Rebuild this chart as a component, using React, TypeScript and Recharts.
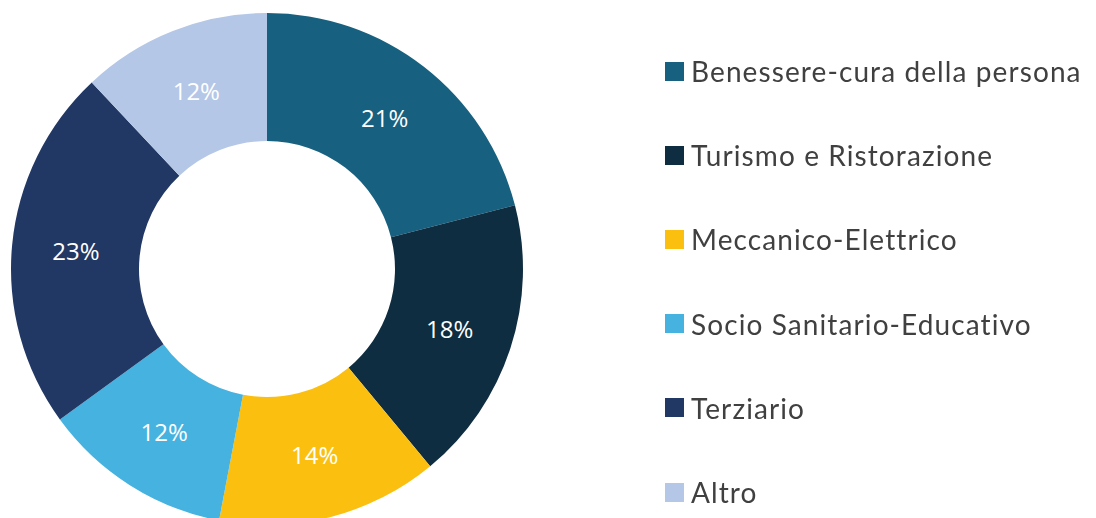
import { PieChart, Pie, Cell, Legend } from "recharts";

// ── Data ───────────────────────────────────────────────────────────

const SECTORS = [
  "Benessere-cura della persona",
  "Turismo e Ristorazione",
  "Meccanico-Elettrico",
  "Socio Sanitario-Educativo",
  "Terziario",
  "Altro",
];
const SHARES = [21, 18, 14, 12, 23, 12];
const COLORS = ["#17607f", "#0f2d40", "#fbbf10", "#45b2e0", "#213764", "#b4c7e7"];

const data = SECTORS.map((name, i) => ({ name, value: SHARES[i] }));

const RAD = Math.PI / 180;

// eslint-disable-next-line @typescript-eslint/no-explicit-any
function renderLabel(p: any) {
  const r = (p.innerRadius + p.outerRadius) / 2;
  const x = p.cx + r * Math.cos(-p.midAngle * RAD);
  const y = p.cy + r * Math.sin(-p.midAngle * RAD);
  return (
    <text x={x} y={y} fill="#fff" fontSize={24} fontFamily="'Open Sans', sans-serif" textAnchor="middle" dominantBaseline="central">
      {`${p.value}%`}
    </text>
  );
}

function LegendList() {
  return (
    <div>
      {data.map((d, i) => (
        <div key={d.name} style={{ display: "flex", alignItems: "center", height: 84.2 }}>
          <span style={{ width: 19, height: 19, background: COLORS[i], display: "inline-block", marginRight: 7 }} />
          <span style={{ fontSize: 28, color: "#404040", fontFamily: "Lato, sans-serif", letterSpacing: 1.1 }}>{d.name}</span>
        </div>
      ))}
    </div>
  );
}

export default function App() {
  return (
    <div style={{ position: "fixed", left: 0, top: 0, width: 1096, height: 518, background: "#fff" }}>
      <PieChart width={1096} height={518}>
        <Pie
          data={data}
          dataKey="value"
          cx={262}
          cy={264}
          innerRadius={128}
          outerRadius={256}
          startAngle={90}
          endAngle={-270}
          stroke="none"
          label={renderLabel}
          labelLine={false}
          isAnimationActive={false}
        >
          {data.map((d, i) => (
            <Cell key={d.name} fill={COLORS[i]} />
          ))}
        </Pie>
        <Legend content={() => <LegendList />} wrapperStyle={{ left: 665, top: 29, width: 430 }} />
      </PieChart>
    </div>
  );
}
